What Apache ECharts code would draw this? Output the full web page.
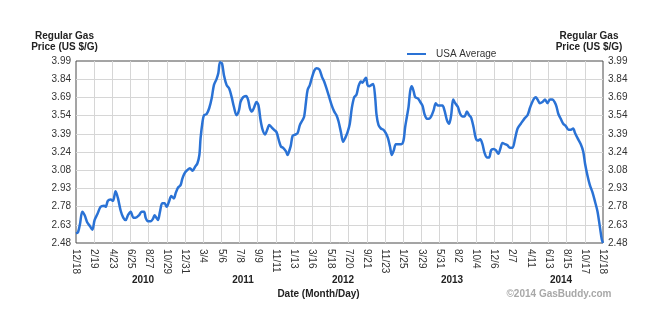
<!DOCTYPE html>
<html>
<head>
<meta charset="utf-8">
<script src="https://cdn.jsdelivr.net/npm/echarts@6/dist/echarts.min.js"></script>
<style>
  html, body { margin: 0; padding: 0; background: #ffffff; }
  #chart { width: 665px; height: 329px; }
</style>
</head>
<body>
<div id="chart"></div>
<script>
// Date ticks every 9 weeks, starting 12/18/2009 and ending 12/18/2014
const dateTicks = ['12/18', '2/19', '4/23', '6/25', '8/27', '10/29', '12/31', '3/4', '5/6', '7/8',
  '9/9', '11/11', '1/13', '3/16', '5/18', '7/20', '9/21', '11/23', '1/25', '3/29',
  '5/31', '8/2', '10/4', '12/6', '2/7', '4/11', '6/13', '8/15', '10/17', '12/18'];

// Price ticks, bottom to top
const priceTicks = ['2.48', '2.63', '2.78', '2.93', '3.08', '3.24', '3.39', '3.54', '3.69', '3.84', '3.99'];

const yearLabels = ['2010', '2011', '2012', '2013', '2014'];

// Weeks elapsed since 12/18/2009
const weekOffsets = [
  0, 1, 2, 3.1, 4.3, 5.6, 6.9, 8.1, 9.2, 10.6,
  12.2, 13.9, 14.7, 15.8, 17.2, 18.3, 19.6, 20.8, 22.1, 23.4,
  24.6, 25.7, 27.1, 28.4, 29.5, 31.2, 32.5, 33.7, 34.5, 35.6,
  37, 38.1, 38.9, 39.8, 40.6, 41.6, 42.7, 43.9, 44.9, 46,
  47.2, 48.5, 49.3, 50.5, 51.8, 52.6, 53.5,
  54.8, 56.4, 57.8, 58.9, 60.1, 61.1, 61.7, 62.7, 63.4, 64.7,
  66, 67.2, 68.3, 69.6, 70.5, 71.3, 72.3, 73.3, 74.6, 75.9,
  77.1, 78.2, 79.5, 80.7, 81.5, 82.8, 84.2, 85.2, 86.1, 87.1,
  88.1, 89.4, 90.4, 91.4, 92.4, 93.6, 94.7, 95.7, 96.9, 98,
  99.3, 100.5, 101.5, 102.6, 104, 104.8, 105.9,
  106.4, 107.3, 108.6, 109.7, 110.9, 112.2, 113, 113.9, 114.7, 115.8,
  116.8, 118, 119.1, 120.5, 121.8, 122.9, 124.1, 125.4, 126.7, 127.9,
  129, 130, 131.2, 132.3, 133.3, 134.5, 135.6, 136.6, 137.8, 138.9,
  139.9, 141.1, 141.9, 142.7, 143.6, 144.4, 145.2, 146.2, 147.2, 148.2,
  148.8, 149.8, 151, 152.2, 153.5, 154.5, 155.5, 156.4, 157.4,
  158.4, 159.7, 161.1, 162.2, 163, 163.9, 164.7, 165.5, 166.3, 167.2,
  168, 169.3, 170.5, 171.6, 172.6, 173.8, 174.9, 175.9, 177.1, 178.2,
  179.2, 180.4, 181.5, 182.5, 183.7, 184.8, 185.8, 186.8, 187.8, 189.1,
  190.3, 191.4, 192.4, 193.6, 194.7, 195.7, 196.9, 198, 199, 200.2,
  201.3, 202.3, 203.5, 204.6, 205.6, 206.8, 207.9, 209.2, 210.1,
  211.2, 212.5, 213.7, 214.9, 216.2, 217.5, 218.7, 220.3, 222, 223.6,
  224.8, 225.7, 226.9, 227.7, 228.6, 229.7, 231, 232.3, 233.5, 234.7,
  236, 237, 238, 238.9, 240.1, 241.3, 242.6, 243.9, 245.1, 246.2,
  247.2, 248.4, 250, 251.2, 252.1, 253.3, 254.5, 255.8, 257.1, 258.3,
  259.4, 260.4, 261
];

// USA average regular gas price (US $/gallon)
const usaAverage = [
  2.56, 2.57, 2.64, 2.74, 2.71, 2.65, 2.62, 2.59, 2.67, 2.72,
  2.78, 2.79, 2.78, 2.83, 2.84, 2.83, 2.91, 2.85, 2.75, 2.69,
  2.67, 2.71, 2.74, 2.69, 2.69, 2.71, 2.74, 2.74, 2.69, 2.66,
  2.66, 2.68, 2.71, 2.69, 2.67, 2.74, 2.81, 2.81, 2.78, 2.82,
  2.87, 2.85, 2.89, 2.94, 2.96, 3.01, 3.05,
  3.08, 3.10, 3.08, 3.11, 3.14, 3.21, 3.35, 3.49, 3.54, 3.55,
  3.60, 3.68, 3.79, 3.84, 3.89, 3.98, 3.97, 3.87, 3.79, 3.76,
  3.69, 3.61, 3.54, 3.58, 3.65, 3.69, 3.70, 3.67, 3.60, 3.57,
  3.60, 3.65, 3.62, 3.50, 3.42, 3.38, 3.42, 3.46, 3.44, 3.42,
  3.40, 3.33, 3.28, 3.27, 3.24, 3.21, 3.26,
  3.29, 3.37, 3.38, 3.39, 3.46, 3.50, 3.53, 3.65, 3.75, 3.79,
  3.85, 3.91, 3.93, 3.92, 3.86, 3.82, 3.76, 3.69, 3.62, 3.57,
  3.54, 3.49, 3.40, 3.32, 3.35, 3.40, 3.47, 3.60, 3.69, 3.71,
  3.78, 3.82, 3.81, 3.83, 3.85, 3.79, 3.78, 3.79, 3.80, 3.68,
  3.55, 3.46, 3.43, 3.42, 3.39, 3.35, 3.28, 3.21, 3.25,
  3.30, 3.30, 3.30, 3.33, 3.44, 3.53, 3.61, 3.74, 3.78, 3.74,
  3.69, 3.68, 3.65, 3.62, 3.55, 3.51, 3.51, 3.53, 3.58, 3.64,
  3.62, 3.62, 3.62, 3.58, 3.50, 3.47, 3.54, 3.67, 3.64, 3.61,
  3.55, 3.53, 3.53, 3.57, 3.54, 3.52, 3.44, 3.35, 3.33, 3.34,
  3.30, 3.23, 3.19, 3.19, 3.25, 3.26, 3.25, 3.22, 3.26,
  3.31, 3.30, 3.29, 3.27, 3.27, 3.35, 3.43, 3.47, 3.51, 3.54,
  3.60, 3.64, 3.68, 3.69, 3.67, 3.64, 3.65, 3.67, 3.64, 3.67,
  3.67, 3.65, 3.61, 3.55, 3.51, 3.47, 3.45, 3.42, 3.42, 3.43,
  3.39, 3.35, 3.30, 3.24, 3.14, 3.04, 2.96, 2.90, 2.82, 2.74,
  2.62, 2.51, 2.48
];

const FONT = '"Liberation Sans", Arial, sans-serif';
const TEXT = '#333333';
const GRID_LINE = '#d6d6d6';
const LINE_BLUE = '#2a72d5';

// Horizontal position of each year caption under the date ticks
const yearCaptionX = [143, 243, 343, 452, 561];

const chart = echarts.init(document.getElementById('chart'), null, { renderer: 'canvas' });

const labelAxis = (position, showSplit) => ({
  type: 'value',
  position: position,
  min: 0,
  max: priceTicks.length - 1,
  interval: 1,
  axisLine: { show: false },
  axisTick: { show: false },
  splitLine: showSplit
    ? { show: true, showMinLine: false, showMaxLine: false, lineStyle: { color: GRID_LINE, width: 1 } }
    : { show: false },
  axisLabel: {
    margin: 5,
    fontSize: 10,
    fontFamily: FONT,
    color: TEXT,
    formatter: (v) => priceTicks[Math.round(v)]
  }
});

chart.setOption({
  animation: false,
  backgroundColor: '#ffffff',
  grid: {
    left: 76, right: 62, top: 61, bottom: 86,
    containLabel: false,
    outerBoundsMode: 'none',
    show: true,
    borderColor: '#4a4a4a',
    borderWidth: 1,
    backgroundColor: 'transparent'
  },
  legend: {
    left: 402,
    top: 44,
    icon: 'rect',
    itemWidth: 19,
    itemHeight: 2,
    data: ['USA Average'],
    textStyle: { fontSize: 10, fontFamily: FONT, color: TEXT, padding: [0, 0, 0, 5] }
  },
  xAxis: {
    type: 'value',
    min: 0,
    max: (dateTicks.length - 1) * 9,
    interval: 9,
    axisLine: { show: false },
    axisTick: { show: false },
    splitLine: { show: true, showMinLine: false, showMaxLine: false, lineStyle: { color: GRID_LINE, width: 1 } },
    axisLabel: {
      rotate: -90,
      margin: 6,
      fontSize: 10,
      fontFamily: FONT,
      color: TEXT,
      showMinLabel: true,
      showMaxLabel: true,
      formatter: (v) => dateTicks[Math.round(v / 9)]
    }
  },
  yAxis: [
    { type: 'value', min: 2.48, max: 3.99, show: false },
    labelAxis('left', true),
    labelAxis('right', false)
  ],
  series: [{
    name: 'USA Average',
    type: 'line',
    xAxisIndex: 0,
    yAxisIndex: 0,
    showSymbol: false,
    smooth: 0.3,
    lineStyle: { color: LINE_BLUE, width: 2.5 },
    itemStyle: { color: LINE_BLUE },
    data: weekOffsets.map((w, i) => [w, usaAverage[i]])
  }],
  graphic: [
    {
      type: 'text', x: 64.5, y: 41.5,
      style: {
        text: 'Regular Gas\nPrice (US $/G)', align: 'center', verticalAlign: 'middle',
        font: 'bold 10px ' + FONT, fill: '#222222', lineHeight: 11
      }
    },
    {
      type: 'text', x: 589, y: 41.5,
      style: {
        text: 'Regular Gas\nPrice (US $/G)', align: 'center', verticalAlign: 'middle',
        font: 'bold 10px ' + FONT, fill: '#222222', lineHeight: 11
      }
    },
    ...yearLabels.map((yr, i) => ({
      type: 'text', x: yearCaptionX[i], y: 280,
      style: { text: yr, align: 'center', verticalAlign: 'middle', font: 'bold 10px ' + FONT, fill: '#222222' }
    })),
    {
      type: 'text', x: 318.5, y: 294,
      style: { text: 'Date (Month/Day)', align: 'center', verticalAlign: 'middle', font: 'bold 10px ' + FONT, fill: '#222222' }
    },
    {
      type: 'text', x: 559, y: 294,
      style: { text: '\u00a92014 GasBuddy.com', align: 'center', verticalAlign: 'middle', font: 'bold 10px ' + FONT, fill: '#a8a8a8' }
    }
  ]
});
</script>
</body>
</html>
